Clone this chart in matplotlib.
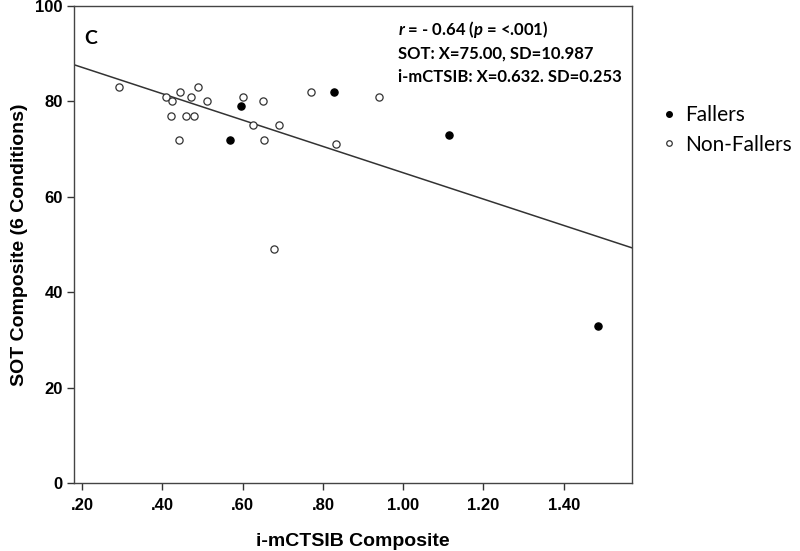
import numpy as np
import matplotlib
matplotlib.use("Agg")
import matplotlib.pyplot as plt
from matplotlib import font_manager as fm
from matplotlib.lines import Line2D

# ---- data ----
fallers_x = [0.568, 0.596, 0.827, 1.115, 1.485]
fallers_y = [72, 79, 82, 73, 33]
nonfallers_x = [0.291, 0.409, 0.425, 0.444, 0.472, 0.490, 0.511, 0.421, 0.460, 0.478,
                0.442, 0.602, 0.652, 0.625, 0.691, 0.654, 0.771, 0.940, 0.832, 0.677]
nonfallers_y = [83, 81, 80, 82, 81, 83, 80, 77, 77, 77,
                72, 81, 80, 75, 75, 72, 82, 81, 71, 49]
x_ticks = [0.2, 0.4, 0.6, 0.8, 1.0, 1.2, 1.4]
x_tick_labels = [".20", ".40", ".60", ".80", "1.00", "1.20", "1.40"]
y_ticks = [0, 20, 40, 60, 80, 100]
legend_labels = ["Fallers", "Non-Fallers"]
stats_lines = [r"$\mathit{r}$ = - 0.64 ($\mathit{p}$ = <.001)",
               "SOT: X=75.00, SD=10.987",
               "i-mCTSIB: X=0.632. SD=0.253"]
panel_label = "C"

names = {f.name for f in fm.fontManager.ttflist}
axis_font = "Liberation Sans"
anno_font = "Lato" if "Lato" in names else "DejaVu Sans"

plt.rcParams["mathtext.fontset"] = "custom"
plt.rcParams["mathtext.it"] = f"{anno_font}:italic:bold"
plt.rcParams["mathtext.rm"] = f"{anno_font}:bold"

fig = plt.figure(figsize=(8, 5.51), dpi=100)
ax = fig.add_axes([74/800, 1-483/551, (632-74)/800, (483-6)/551])

xlim = (0.18, 1.57)
ax.set_xlim(*xlim)
ax.set_ylim(0, 100)

# regression line from the data
all_x = np.array(fallers_x + nonfallers_x)
all_y = np.array(fallers_y + nonfallers_y)
slope, intercept = np.polyfit(all_x, all_y, 1)
lx = np.array(xlim)
ax.plot(lx, slope*lx + intercept, color="#333333", lw=1.1, zorder=2)

ax.plot(nonfallers_x, nonfallers_y, linestyle="none", marker="o", ms=5.2,
        mfc="white", mec="#333333", mew=0.9, zorder=3)
ax.plot(fallers_x, fallers_y, linestyle="none", marker="o", ms=5.2,
        mfc="black", mec="black", mew=0.9, zorder=3)

ax.set_xticks(x_ticks)
ax.set_xticklabels(x_tick_labels)
ax.set_yticks(y_ticks)
for lab in ax.get_xticklabels() + ax.get_yticklabels():
    lab.set_fontfamily(axis_font)
    lab.set_fontweight("bold")
    lab.set_fontsize(12)
ax.tick_params(direction="out", length=5, width=1, color="#333333", pad=3)
ax.tick_params(axis="x", pad=6)
for sp in ax.spines.values():
    sp.set_color("#444444")
    sp.set_linewidth(1)

ax.set_xlabel("i-mCTSIB Composite", fontfamily=axis_font, fontweight="bold",
              fontsize=14, labelpad=14)
ax.set_ylabel("SOT Composite (6 Conditions)", fontfamily=axis_font, fontweight="bold",
              fontsize=14, labelpad=5)

ax.text(84/800, 1-39/551, panel_label, transform=fig.transFigure, fontfamily=anno_font,
        fontweight="bold", fontsize=14, va="center", ha="left")
for i, line in enumerate(stats_lines):
    fig.text(398/800, 1-(30+23.5*i)/551, line, fontfamily=anno_font, fontweight="bold",
             fontsize=12, va="center", ha="left")

handles = [Line2D([], [], linestyle="none", marker="o", ms=4, mfc="black", mec="black"),
           Line2D([], [], linestyle="none", marker="o", ms=4, mfc="white", mec="#333333", mew=0.9)]
fig.legend(handles, legend_labels, loc="center left", bbox_to_anchor=(650/800, 1-130/551),
           frameon=False, prop={"family": anno_font, "size": 15}, handletextpad=0.3,
           handlelength=1.0, labelspacing=0.45, borderaxespad=0)

fig.savefig("out.png", dpi=100, facecolor="white")
